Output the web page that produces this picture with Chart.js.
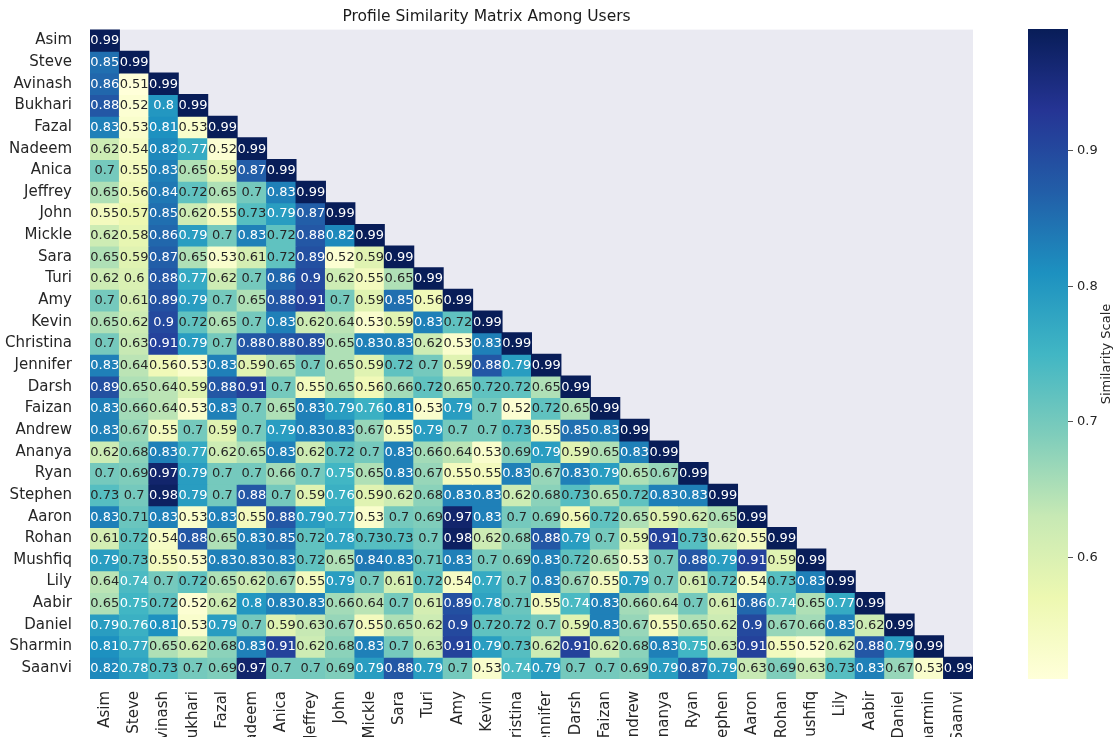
<!DOCTYPE html>
<html>
<head>
<meta charset="utf-8">
<title>Profile Similarity Matrix Among Users</title>
<script src="https://cdn.jsdelivr.net/npm/chart.js@4.4.0/dist/chart.umd.min.js"></script>
<style>
  body { margin: 0; background: #fff; }
  #wrap { position: relative; width: 1113px; height: 737px; overflow: hidden; }
  #heatmap { position: absolute; left: 0; top: 0; }
  #colorbar { position: absolute; left: 1000px; top: 0; }
</style>
</head>
<body>
<div id="wrap">
  <canvas id="heatmap" width="1113" height="737"></canvas>
  <canvas id="colorbar" width="113" height="737"></canvas>
</div>
<script>
// users, in row / column order
var users = ['Asim', 'Steve', 'Avinash', 'Bukhari', 'Fazal', 'Nadeem', 'Anica', 'Jeffrey', 'John', 'Mickle',
    'Sara', 'Turi', 'Amy', 'Kevin', 'Christina', 'Jennifer', 'Darsh', 'Faizan', 'Andrew', 'Ananya',
    'Ryan', 'Stephen', 'Aaron', 'Rohan', 'Mushfiq', 'Lily', 'Aabir', 'Daniel', 'Sharmin', 'Saanvi'];

// lower triangle, one row per user (diagonal included)
var similarity = [
    [0.99],
    [0.85, 0.99],
    [0.86, 0.51, 0.99],
    [0.88, 0.52, 0.8, 0.99],
    [0.83, 0.53, 0.81, 0.53, 0.99],
    [0.62, 0.54, 0.82, 0.77, 0.52, 0.99],
    [0.7, 0.55, 0.83, 0.65, 0.59, 0.87, 0.99],
    [0.65, 0.56, 0.84, 0.72, 0.65, 0.7, 0.83, 0.99],
    [0.55, 0.57, 0.85, 0.62, 0.55, 0.73, 0.79, 0.87, 0.99],
    [0.62, 0.58, 0.86, 0.79, 0.7, 0.83, 0.72, 0.88, 0.82, 0.99],
    [0.65, 0.59, 0.87, 0.65, 0.53, 0.61, 0.72, 0.89, 0.52, 0.59, 0.99],
    [0.62, 0.6, 0.88, 0.77, 0.62, 0.7, 0.86, 0.9, 0.62, 0.55, 0.65, 0.99],
    [0.7, 0.61, 0.89, 0.79, 0.7, 0.65, 0.88, 0.91, 0.7, 0.59, 0.85, 0.56, 0.99],
    [0.65, 0.62, 0.9, 0.72, 0.65, 0.7, 0.83, 0.62, 0.64, 0.53, 0.59, 0.83, 0.72, 0.99],
    [0.7, 0.63, 0.91, 0.79, 0.7, 0.88, 0.88, 0.89, 0.65, 0.83, 0.83, 0.62, 0.53, 0.83, 0.99],
    [0.83, 0.64, 0.56, 0.53, 0.83, 0.59, 0.65, 0.7, 0.65, 0.59, 0.72, 0.7, 0.59, 0.88, 0.79, 0.99],
    [0.89, 0.65, 0.64, 0.59, 0.88, 0.91, 0.7, 0.55, 0.65, 0.56, 0.66, 0.72, 0.65, 0.72, 0.72, 0.65, 0.99],
    [0.83, 0.66, 0.64, 0.53, 0.83, 0.7, 0.65, 0.83, 0.79, 0.76, 0.81, 0.53, 0.79, 0.7, 0.52, 0.72, 0.65, 0.99],
    [0.83, 0.67, 0.55, 0.7, 0.59, 0.7, 0.79, 0.83, 0.83, 0.67, 0.55, 0.79, 0.7, 0.7, 0.73, 0.55, 0.85, 0.83, 0.99],
    [0.62, 0.68, 0.83, 0.77, 0.62, 0.65, 0.83, 0.62, 0.72, 0.7, 0.83, 0.66, 0.64, 0.53, 0.69, 0.79, 0.59, 0.65, 0.83, 0.99],
    [0.7, 0.69, 0.97, 0.79, 0.7, 0.7, 0.66, 0.7, 0.75, 0.65, 0.83, 0.67, 0.55, 0.55, 0.83, 0.67, 0.83, 0.79, 0.65, 0.67, 0.99],
    [0.73, 0.7, 0.98, 0.79, 0.7, 0.88, 0.7, 0.59, 0.76, 0.59, 0.62, 0.68, 0.83, 0.83, 0.62, 0.68, 0.73, 0.65, 0.72, 0.83, 0.83, 0.99],
    [0.83, 0.71, 0.83, 0.53, 0.83, 0.55, 0.88, 0.79, 0.77, 0.53, 0.7, 0.69, 0.97, 0.83, 0.7, 0.69, 0.56, 0.72, 0.65, 0.59, 0.62, 0.65, 0.99],
    [0.61, 0.72, 0.54, 0.88, 0.65, 0.83, 0.85, 0.72, 0.78, 0.73, 0.73, 0.7, 0.98, 0.62, 0.68, 0.88, 0.79, 0.7, 0.59, 0.91, 0.73, 0.62, 0.55, 0.99],
    [0.79, 0.73, 0.55, 0.53, 0.83, 0.83, 0.83, 0.72, 0.65, 0.84, 0.83, 0.71, 0.83, 0.7, 0.69, 0.83, 0.72, 0.65, 0.53, 0.7, 0.88, 0.79, 0.91, 0.59, 0.99],
    [0.64, 0.74, 0.7, 0.72, 0.65, 0.62, 0.67, 0.55, 0.79, 0.7, 0.61, 0.72, 0.54, 0.77, 0.7, 0.83, 0.67, 0.55, 0.79, 0.7, 0.61, 0.72, 0.54, 0.73, 0.83, 0.99],
    [0.65, 0.75, 0.72, 0.52, 0.62, 0.8, 0.83, 0.83, 0.66, 0.64, 0.7, 0.61, 0.89, 0.78, 0.71, 0.55, 0.74, 0.83, 0.66, 0.64, 0.7, 0.61, 0.86, 0.74, 0.65, 0.77, 0.99],
    [0.79, 0.76, 0.81, 0.53, 0.79, 0.7, 0.59, 0.63, 0.67, 0.55, 0.65, 0.62, 0.9, 0.72, 0.72, 0.7, 0.59, 0.83, 0.67, 0.55, 0.65, 0.62, 0.9, 0.67, 0.66, 0.83, 0.62, 0.99],
    [0.81, 0.77, 0.65, 0.62, 0.68, 0.83, 0.91, 0.62, 0.68, 0.83, 0.7, 0.63, 0.91, 0.79, 0.73, 0.62, 0.91, 0.62, 0.68, 0.83, 0.75, 0.63, 0.91, 0.55, 0.52, 0.62, 0.88, 0.79, 0.99],
    [0.82, 0.78, 0.73, 0.7, 0.69, 0.97, 0.7, 0.7, 0.69, 0.79, 0.88, 0.79, 0.7, 0.53, 0.74, 0.79, 0.7, 0.7, 0.69, 0.79, 0.87, 0.79, 0.63, 0.69, 0.63, 0.73, 0.83, 0.67, 0.53, 0.99]
];

var scaleRange = [0.51, 0.99];
var colorbarTicks = [0.6, 0.7, 0.8, 0.9];

// YlGnBu
var ylgnbu = ['#ffffd9', '#edf8b1', '#c7e9b4', '#7fcdbb', '#41b6c4', '#1d91c0', '#225ea8', '#253494', '#081d58'];

function hexToRgb(h) {
    return [parseInt(h.substr(1, 2), 16), parseInt(h.substr(3, 2), 16), parseInt(h.substr(5, 2), 16)];
}

function cmapRgb(v) {
    let t = (v - scaleRange[0]) / (scaleRange[1] - scaleRange[0]);
    t = Math.max(0, Math.min(1, t));
    let pos = t * (ylgnbu.length - 1);
    let i = Math.min(Math.floor(pos), ylgnbu.length - 2);
    let f = pos - i;
    let a = hexToRgb(ylgnbu[i]), b = hexToRgb(ylgnbu[i + 1]);
    return [0, 1, 2].map(k => Math.round(a[k] + (b[k] - a[k]) * f));
}

function cmap(v) {
    let c = cmapRgb(v);
    return 'rgb(' + c[0] + ',' + c[1] + ',' + c[2] + ')';
}

// same rule seaborn uses for annotation colour
function textColor(v) {
    let lin = c => { c /= 255; return c <= 0.03928 ? c / 12.92 : Math.pow((c + 0.055) / 1.055, 2.4); };
    let c = cmapRgb(v);
    let lum = 0.2126 * lin(c[0]) + 0.7152 * lin(c[1]) + 0.0722 * lin(c[2]);
    return lum > 0.408 ? '#262626' : '#ffffff';
}

Chart.defaults.font.family = "'DejaVu Sans', sans-serif";
Chart.defaults.color = '#262626';

var rowDatasets = similarity.map(function (row, i) {
    return {
        label: users[i],
        data: users.map((u, j) => j < row.length ? [i - 0.5, i + 0.5] : null),
        backgroundColor: users.map((u, j) => j < row.length ? cmap(row[j]) : 'rgba(0,0,0,0)'),
        borderWidth: 0,
        barPercentage: 1,
        categoryPercentage: 1,
        grouped: false,
        inflateAmount: 0.5,
    };
});

var axesBackground = {
    id: 'axesBackground',
    beforeDraw(chart) {
        const {ctx, chartArea} = chart;
        ctx.save();
        ctx.fillStyle = '#eaeaf2';
        ctx.fillRect(chartArea.left, chartArea.top, chartArea.right - chartArea.left, chartArea.bottom - chartArea.top);
        ctx.restore();
    }
};

var cellLabels = {
    id: 'cellLabels',
    afterDatasetsDraw(chart) {
        const ctx = chart.ctx;
        ctx.save();
        ctx.font = "13px 'DejaVu Sans'";
        ctx.textAlign = 'center';
        ctx.textBaseline = 'middle';
        similarity.forEach(function (row, i) {
            let meta = chart.getDatasetMeta(i);
            row.forEach(function (v, j) {
                let p = meta.data[j].getCenterPoint();
                ctx.fillStyle = textColor(v);
                ctx.fillText(String(v), p.x, p.y + 0.5);
            });
        });
        ctx.restore();
    }
};

var heatmap = new Chart(document.getElementById('heatmap').getContext('2d'), {
    type: 'bar',
    data: {
        labels: users,
        datasets: rowDatasets,
    },
    options: {
        responsive: false,
        animation: false,
        layout: {
            padding: { left: 0, right: 140, top: 0, bottom: 0 },
        },
        plugins: {
            legend: { display: false },
            tooltip: { enabled: false },
            title: {
                display: true,
                text: 'Profile Similarity Matrix Among Users',
                color: '#1a1a1a',
                font: { size: 15.5, weight: 'normal' },
                padding: { top: 8, bottom: 3 },
            },
        },
        scales: {
            x: {
                type: 'category',
                grid: { display: false },
                border: { display: false },
                ticks: {
                    autoSkip: false,
                    minRotation: 90,
                    maxRotation: 90,
                    padding: 4,
                    font: { size: 15 },
                },
                afterFit(scale) { scale.height = 58; },
            },
            y: {
                type: 'linear',
                reverse: true,
                min: -0.5,
                max: users.length - 0.5,
                grid: { display: false },
                border: { display: false },
                afterBuildTicks(scale) {
                    scale.ticks = users.map((u, i) => ({ value: i }));
                },
                ticks: {
                    autoSkip: false,
                    padding: 10,
                    font: { size: 15 },
                    callback: (v) => users[v],
                },
                afterFit(scale) { scale.width = 90; },
            },
        },
    },
    plugins: [axesBackground, cellLabels],
});

var colorbarLabel = {
    id: 'colorbarLabel',
    afterDraw(chart) {
        const ctx = chart.ctx;
        ctx.save();
        ctx.font = "13px 'DejaVu Sans'";
        ctx.fillStyle = '#262626';
        ctx.textAlign = 'center';
        ctx.textBaseline = 'middle';
        ctx.translate(107, (chart.chartArea.top + chart.chartArea.bottom) / 2);
        ctx.rotate(-Math.PI / 2);
        ctx.fillText('Similarity Scale', 0, 0);
        ctx.restore();
    }
};

var colorbar = new Chart(document.getElementById('colorbar').getContext('2d'), {
    type: 'bar',
    data: {
        labels: ['scale'],
        datasets: [{
            data: [scaleRange],
            backgroundColor: function (context) {
                const area = context.chart.chartArea;
                if (!area) return ylgnbu[4];
                const g = context.chart.ctx.createLinearGradient(0, area.bottom, 0, area.top);
                ylgnbu.forEach((c, i) => g.addColorStop(i / (ylgnbu.length - 1), c));
                return g;
            },
            borderWidth: 0,
            barPercentage: 1,
            categoryPercentage: 1,
            inflateAmount: 0,
        }],
    },
    options: {
        responsive: false,
        animation: false,
        layout: {
            padding: { left: 28, right: 0, top: 29, bottom: 58 },
        },
        plugins: {
            legend: { display: false },
            tooltip: { enabled: false },
        },
        scales: {
            x: { display: false },
            y: {
                position: 'right',
                min: scaleRange[0],
                max: scaleRange[1],
                grid: {
                    drawOnChartArea: false,
                    drawTicks: true,
                    tickLength: 5,
                    tickColor: '#555555',
                },
                border: { display: false },
                afterBuildTicks(scale) {
                    scale.ticks = colorbarTicks.map(v => ({ value: v }));
                },
                ticks: {
                    padding: 4,
                    font: { size: 13 },
                    callback: (v) => String(v),
                },
                afterFit(scale) { scale.width = 45; },
            },
        },
    },
    plugins: [colorbarLabel],
});
</script>
</body>
</html>
